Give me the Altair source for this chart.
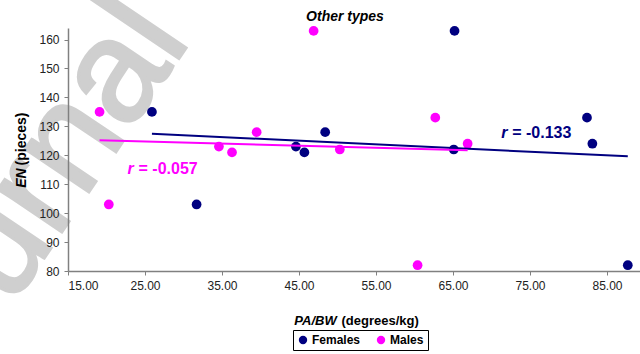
import altair as alt
import pandas as pd

# ---- data ----
female_x = [25.9, 31.7, 44.6, 45.7, 48.4, 65.2, 65.1, 82.4, 83.1, 87.7]
female_y = [135, 103, 123, 121, 128, 163, 122, 133, 124, 82]
male_x = [19.1, 20.3, 34.6, 36.3, 39.5, 46.9, 50.3, 62.7, 66.9, 60.4]
male_y = [135, 103, 123, 121, 128, 163, 122, 133, 124, 82]
groups = ["Females", "Males"]
colors = ["#000080", "#ff00ff"]
x_ticks = [15, 25, 35, 45, 55, 65, 75, 85]
y_ticks = [80, 90, 100, 110, 120, 130, 140, 150, 160]
r_values = ["= -0.133", "= -0.057"]
r_x = [71.26, 22.73]
r_y = [126.1, 113.4]

FONT = "Liberation Sans"

df = pd.DataFrame({
    "PA": female_x + male_x,
    "EN": female_y + male_y,
    "Sex": ["Females"] * len(female_x) + ["Males"] * len(male_x),
})
rdf = pd.DataFrame({"rx": r_x, "ry": r_y, "txt": r_values, "Sex": groups})

xs = alt.Scale(domain=[15, 90], range=[0, 577.5], nice=False, zero=False)
ys = alt.Scale(domain=[80, 164], nice=False, zero=False)
cs = alt.Scale(domain=groups, range=colors)

x_axis = alt.Axis(values=x_ticks, format=".2f", title=None, grid=False,
                  domainColor="#808080", tickColor="#808080", domainWidth=1.5,
                  tickSize=4, labelPadding=5, labelFont=FONT, labelFontSize=12,
                  labelColor="#222", labelOverlap=False, zindex=1)
y_axis = alt.Axis(values=y_ticks, title=None, grid=False,
                  domainColor="#808080", tickColor="#808080", domainWidth=1.5,
                  tickSize=4, labelPadding=5, labelFont=FONT, labelFontSize=12,
                  labelColor="#222", labelOverlap=False, zindex=1)

X = lambda f: alt.X(f, scale=xs, axis=x_axis)
Y = lambda f: alt.Y(f, scale=ys, axis=y_axis)

one = pd.DataFrame({"t": ["x"]})

watermark = alt.Chart(one).mark_text(
    text="Journal Pre-proof", font=FONT, fontSize=145, color="#cfcfcf",
    stroke="#cfcfcf", strokeWidth=3,
    angle=304, align="left", baseline="alphabetic"
).encode(x=alt.value(-142.5), y=alt.value(406))

points = alt.Chart(df).mark_circle(size=95, opacity=1).encode(
    x=X("PA:Q"),
    y=Y("EN:Q"),
    color=alt.Color("Sex:N", scale=cs, legend=alt.Legend(
        orient="none", legendX=225, legendY=302, direction="horizontal",
        title=None, symbolType="circle", symbolSize=70, symbolStrokeWidth=0,
        labelFont=FONT, labelFontSize=12, labelFontWeight="bold",
        labelColor="black", strokeColor="#000", fillColor="white",
        padding=4, columnPadding=14, labelOffset=3)),
)

lines = alt.Chart(df).transform_regression(
    "PA", "EN", groupby=["Sex"]
).mark_line(strokeWidth=2).encode(
    x=X("PA:Q"),
    y=Y("EN:Q"),
    stroke=alt.Stroke("Sex:N", scale=cs, legend=None),
)

r_italic = alt.Chart(rdf).mark_text(
    text="r", font=FONT, fontSize=16, fontWeight="bold", fontStyle="italic",
    align="left", baseline="alphabetic"
).encode(
    x=X("rx:Q"), y=Y("ry:Q"),
    fill=alt.Fill("Sex:N", scale=cs, legend=None),
)
r_rest = alt.Chart(rdf).mark_text(
    font=FONT, fontSize=16, fontWeight="bold",
    align="left", baseline="alphabetic", dx=11
).encode(
    x=X("rx:Q"), y=Y("ry:Q"),
    text="txt:N",
    fill=alt.Fill("Sex:N", scale=cs, legend=None),
)

title = alt.Chart(one).mark_text(
    text="Other types", font=FONT, fontSize=14, fontWeight="bold",
    fontStyle="italic", align="center", baseline="alphabetic", color="black"
).encode(x=alt.value(277), y=alt.value(-7.5))

xt1 = alt.Chart(one).mark_text(
    text="PA/BW", font=FONT, fontSize=13, fontWeight="bold", fontStyle="italic",
    align="left", baseline="alphabetic", color="black"
).encode(x=alt.value(226.3), y=alt.value(297))
xt2 = alt.Chart(one).mark_text(
    text="(degrees/kg)", font=FONT, fontSize=13, fontWeight="bold",
    align="left", baseline="alphabetic", color="black"
).encode(x=alt.value(273.5), y=alt.value(297))

# y title pieces (rotated)
yt1 = alt.Chart(one).mark_text(
    text="EN", font=FONT, fontSize=14, fontWeight="bold", fontStyle="italic",
    align="center", baseline="alphabetic", angle=270, color="black"
).encode(x=alt.value(-42.5), y=alt.value(150))
yt2 = alt.Chart(one).mark_text(
    text="(pieces)", font=FONT, fontSize=14, fontWeight="bold",
    align="center", baseline="alphabetic", angle=270, color="black"
).encode(x=alt.value(-42.5), y=alt.value(111))

chart = alt.layer(
    watermark, points, lines, r_italic, r_rest, title, xt1, xt2, yt1, yt2
).resolve_scale(color="shared").properties(
    width=572, height=243,
    autosize=alt.AutoSizeParams(type="none"),
    padding={"left": 68, "top": 28, "right": 0, "bottom": 83},
    background="white",
).configure_view(stroke=None).configure_axis(labelOverlap=False)

chart.save("out.html", embed_options={"renderer": "svg", "actions": False})
